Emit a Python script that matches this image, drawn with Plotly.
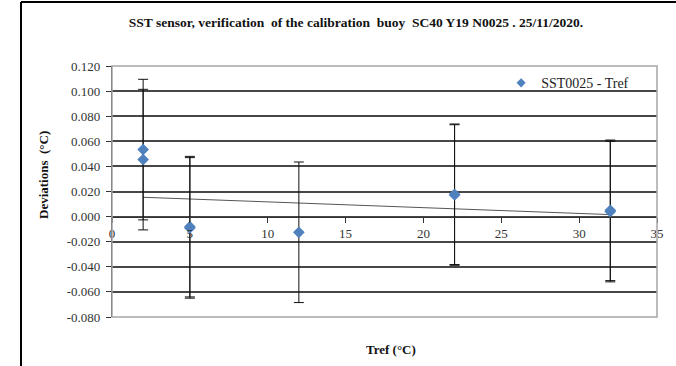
import plotly.graph_objects as go

# Calibration check points: reference temperature vs. deviation (SST0025 - Tref)
tref = [2, 2, 5, 5, 12, 22, 22, 32, 32]
deviation = [0.0534, 0.0454, -0.0080, -0.0090, -0.0125, 0.0172, 0.0178, 0.0040, 0.0050]
uncertainty = [0.056, 0.056, 0.056, 0.056, 0.056, 0.056, 0.056, 0.056, 0.056]

# Linear trend of the deviations
trend_x = [2, 32]
trend_y = [0.0154, 0.0016]

y_ticks = [0.12, 0.10, 0.08, 0.06, 0.04, 0.02, 0.0, -0.02, -0.04, -0.06, -0.08]
y_tick_labels = ["0.120", "0.100", "0.080", "0.060", "0.040", "0.020", "0.000",
                 "-0.020", "-0.040", "-0.060", "-0.080"]
x_ticks = [0, 5, 10, 15, 20, 25, 30, 35]

SERIF = "Liberation Serif"
BLUE = "#4F81BD"

fig = go.Figure()

fig.add_trace(go.Scatter(
    x=trend_x, y=trend_y, mode="lines",
    line=dict(color="#555555", width=1),
    showlegend=False, hoverinfo="skip",
))

fig.add_trace(go.Scatter(
    x=tref, y=deviation, mode="markers",
    marker=dict(symbol="diamond", size=9, color=BLUE),
    error_y=dict(type="data", array=uncertainty, visible=True,
                 color="#111111", thickness=1, width=5),
    showlegend=False,
))

# Legend entry with a smaller symbol
fig.add_trace(go.Scatter(
    x=[None], y=[None], mode="markers", name="SST0025 - Tref",
    marker=dict(symbol="diamond", size=7, color=BLUE),
))

fig.update_layout(
    width=676, height=366,
    margin=dict(l=112, r=19, t=66, b=49),
    paper_bgcolor="white", plot_bgcolor="white",
    font=dict(family=SERIF, size=13, color="#333333"),
    title=dict(
        text="SST sensor, verification  of the calibration  buoy  SC40 Y19 N0025 . 25/11/2020.",
        x=356 / 676, xref="container", xanchor="center",
        y=1 - 22 / 366, yref="container", yanchor="middle",
        font=dict(family=SERIF, size=13.5, color="#111111", weight="bold"),
    ),
    showlegend=True,
    legend=dict(
        x=0.714, y=0.995, xanchor="left", yanchor="top",
        bgcolor="rgba(0,0,0,0)", borderwidth=0,
        font=dict(family=SERIF, size=14, color="#222222"),
    ),
    xaxis=dict(
        range=[0, 35], tickvals=x_ticks,
        anchor="free", position=0.4,
        showline=True, linecolor="#333333", linewidth=1.2,
        ticks="outside", ticklen=5, tickcolor="#333333",
        showgrid=False, zeroline=False,
        tickfont=dict(family=SERIF, size=13, color="#333333"),
    ),
    yaxis=dict(
        range=[-0.08, 0.12], tickvals=y_ticks, ticktext=y_tick_labels,
        showline=True, linecolor="#333333", linewidth=1.2,
        ticks="outside", ticklen=5, tickcolor="#333333",
        ticklabelstandoff=3,
        showgrid=True, gridcolor="#474747", gridwidth=1.6,
        zeroline=False,
        tickfont=dict(family=SERIF, size=13, color="#333333"),
    ),
    annotations=[
        dict(text="<b>Deviations  (°C)</b>", textangle=-90,
             xref="paper", yref="paper", x=(43 - 112) / 545, y=(317 - 175) / 251,
             showarrow=False, xanchor="center", yanchor="middle",
             font=dict(family=SERIF, size=13, color="#111111")),
        dict(text="<b>Tref (°C)</b>",
             xref="paper", yref="paper", x=(391 - 112) / 545, y=(317 - 350) / 251,
             showarrow=False, xanchor="center", yanchor="middle",
             font=dict(family=SERIF, size=13, color="#111111")),
    ],
    shapes=[
        # plot area frame
        dict(type="rect", xref="paper", yref="paper", x0=0, y0=0, x1=1, y1=1,
             line=dict(color="#a6a6a6", width=1.5), layer="above"),
        # outer chart border (top and left)
        dict(type="line", xref="paper", yref="paper",
             x0=(21 - 112) / 545, x1=(680 - 112) / 545,
             y0=(317 - 2) / 251, y1=(317 - 2) / 251,
             line=dict(color="#000000", width=2)),
        dict(type="line", xref="paper", yref="paper",
             x0=(21 - 112) / 545, x1=(21 - 112) / 545,
             y0=(317 - 2) / 251, y1=(317 - 370) / 251,
             line=dict(color="#000000", width=2)),
    ],
)

fig.write_html("out.html")
